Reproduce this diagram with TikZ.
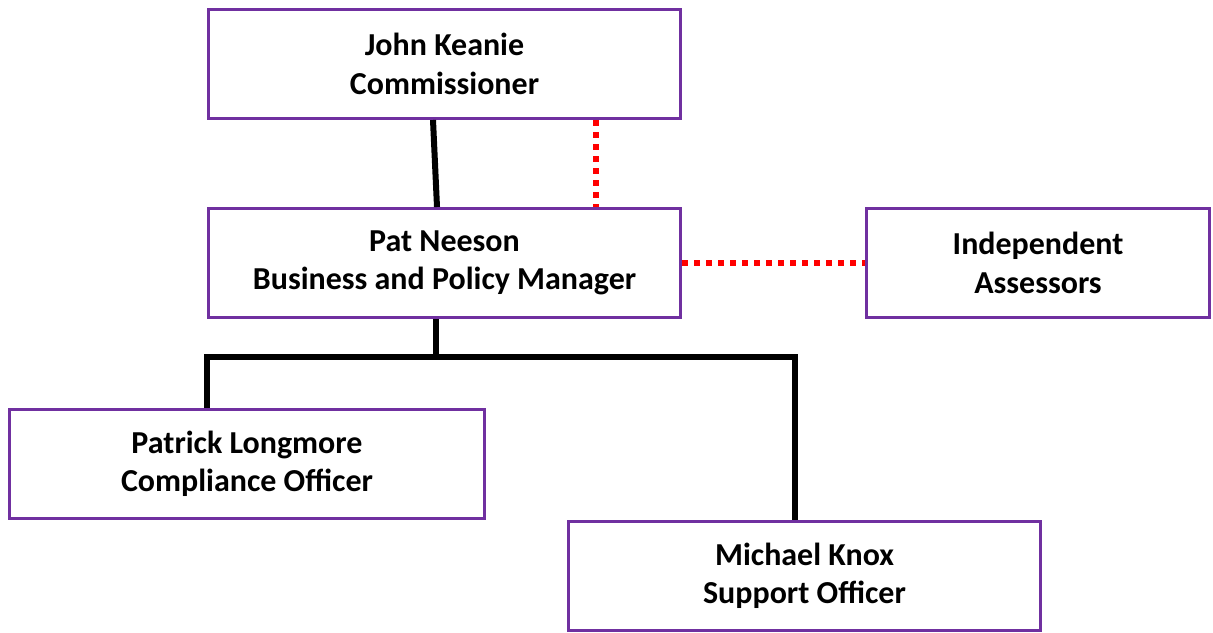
\documentclass[tikz,border=0pt]{standalone}
\usepackage{fontspec}
\setmainfont{Carlito}
\usetikzlibrary{positioning, calc}

\definecolor{boxpurple}{RGB}{112,48,160}
\definecolor{linkred}{RGB}{255,0,0}

\begin{document}
\begin{tikzpicture}[
        post/.style={
            draw=boxpurple,
            line width=0.06cm,
            fill=white,
            minimum width=9.44cm,
            minimum height=2.18cm,
            align=center,
            font=\fontsize{18.2}{21.8}\selectfont\bfseries
        },
        reportline/.style={
            line width=0.12cm,
            black
        },
        adviceline/.style={
            line width=0.11cm,
            linkred,
            dash pattern=on 0.11cm off 0.13cm
        }
    ]

        \useasboundingbox (0,0) rectangle (24.26,-12.64);

        % ---------------------------------------------------------------------
        % Posts
        % ---------------------------------------------------------------------

        \node[post] (commissioner) at (8.89,-1.28) {
            John Keanie\\
            Commissioner
        };

        \node[
            post,
            below=1.74cm of commissioner
        ] (manager) {
            Pat Neeson\\
            Business and Policy Manager
        };

        \node[
            post,
            minimum width=6.86cm,
            right=3.66cm of manager
        ] (assessors) {
            Independent\\
            Assessors
        };

        \node[
            post,
            minimum width=9.5cm,
            below=1.78cm of manager,
            xshift=-3.95cm
        ] (compliance) {
            Patrick Longmore\\
            Compliance Officer
        };

        \node[
            post,
            below=4.02cm of manager,
            xshift=7.2cm
        ] (support) {
            Michael Knox\\
            Support Officer
        };

        % ---------------------------------------------------------------------
        % Line management
        % ---------------------------------------------------------------------

        \draw[reportline]
            ($(commissioner.south)+(-0.23,0)$)
            --
            ($(manager.north)+(-0.15,0)$);

        \draw[reportline]
            ($(manager.south)+(-0.17,0)$)
            --
            ++(0,-0.76) coordinate (branch);

        \draw[reportline]
            ($(compliance.north)+(-0.8,0)$)
            |- (branch)
            -| ($(support.north)+(-0.19,0)$);

        % ---------------------------------------------------------------------
        % Advisory links
        % ---------------------------------------------------------------------

        \draw[adviceline]
            ($(commissioner.south)+(3.03,0)$)
            --
            ($(manager.north)+(3.03,0)$);

        \draw[adviceline]
            (manager.east)
            --
            (assessors.west);

    \end{tikzpicture}
\end{document}
